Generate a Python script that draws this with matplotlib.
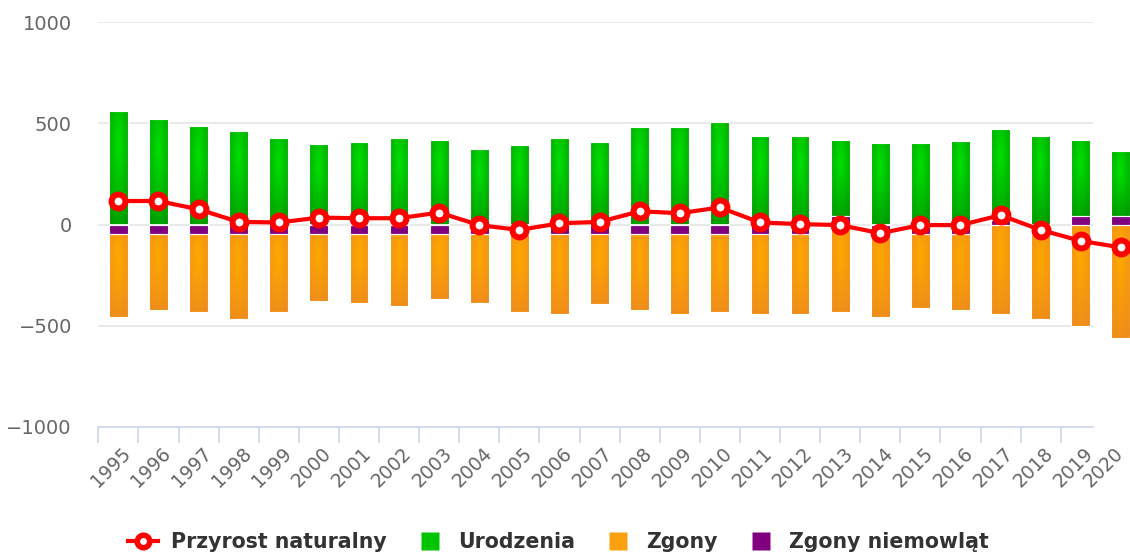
import numpy as np
import matplotlib.pyplot as plt
import matplotlib.transforms as mtransforms
from matplotlib.colors import LinearSegmentedColormap
from matplotlib.lines import Line2D

# -----------------------------
# DATA
# -----------------------------
years = ["1995", "1996", "1997", "1998", "1999", "2000", "2001", "2002", "2003",
         "2004", "2005", "2006", "2007", "2008", "2009", "2010", "2011", "2012",
         "2013", "2014", "2015", "2016", "2017", "2018", "2019", "2020"]

urodzenia = [559, 523, 488, 462, 426, 400, 408, 426, 418, 374, 392, 426, 408,
             480, 480, 507, 436, 436, 376, 401, 401, 410, 452, 436, 376, 322]

zgony = [-410, -374, -382, -418, -382, -329, -338, -356, -321, -338, -382, -392, -347,
         -374, -392, -382, -392, -392, -430, -410, -365, -374, -440, -418, -502, -561]

zgony_niemowlat = [-48, -48, -48, -48, -48, -48, -48, -48, -48, -48, -48, -48, -48,
                   -48, -48, -48, -48, -48, 42, -48, -48, -48, 20, -48, 42, 40]

przyrost = [116, 116, 75, 13, 10, 34, 31, 31, 59, -3, -27, 6, 13,
            65, 56, 84, 10, 2, -3, -43, -3, -3, 46, -27, -81, -113]

# -----------------------------
# STYLE
# -----------------------------
GREEN = ("#00e000", "#009a00")
ORANGE = ("#ffa800", "#ee8c1c")
PURPLE = "#800080"
RED = "#ff0000"
GRID = "#e6e6e6"
AXIS = "#ccd6eb"
TXT = "#666666"

W, H = 1130, 558


def gradient_fill(ax, bars, colors):
    """Paint a radial gradient inside every bar (Highcharts-like look)."""
    cmap = LinearSegmentedColormap.from_list("grad", list(colors))
    yy, xx = np.mgrid[0:1:120j, 0:1:30j]
    d = np.sqrt((xx - 0.5) ** 2 + (yy - 0.3) ** 2) / 0.8
    grad = np.clip(d, 0, 1)
    for p in bars:
        bb = p.get_bbox()
        x0, x1 = sorted([bb.x0, bb.x1])
        y0, y1 = sorted([bb.y0, bb.y1])
        if y1 - y0 <= 0:
            continue
        im = ax.imshow(grad, cmap=cmap, vmin=0, vmax=1, extent=[x0, x1, y0, y1],
                       aspect="auto", origin="upper", interpolation="bilinear", zorder=2.5)
        im.set_clip_path(p)
        p.set_facecolor("none")
        p.set_zorder(3)


fig = plt.figure(figsize=(W / 100, H / 100), dpi=100)
# plot area: left edge at 98 px, one category = 40.1 px
cat_px = 40.1
left_px, top_px, bot_px = 98.3, 22, 427
ax = fig.add_axes([left_px / W, 1 - bot_px / H, cat_px * len(years) / W, (bot_px - top_px) / H])

x = np.arange(len(years))
niem = np.array(zgony_niemowlat)
pos_base = np.clip(niem, 0, None)
neg_base = np.clip(niem, None, 0)

bw = 0.47
b_niem = ax.bar(x, niem, width=bw, color=PURPLE, edgecolor="white", linewidth=0.8, zorder=3)
b_uro = ax.bar(x, urodzenia, width=bw, bottom=pos_base, color=GREEN[0],
               edgecolor="white", linewidth=0.8, zorder=2)
b_zg = ax.bar(x, zgony, width=bw, bottom=neg_base, color=ORANGE[0],
              edgecolor="white", linewidth=0.8, zorder=2)
gradient_fill(ax, b_uro, GREEN)
gradient_fill(ax, b_zg, ORANGE)

ax.plot(x, przyrost, color=RED, lw=3, marker="o", ms=10, mfc="white", mec=RED,
        mew=4.3, zorder=6, clip_on=False)

# axes / grid (the chart is caught mid-update: grid stops before 2020)
grid_end = len(years) - 1.7
yt = [-1000, -500, 0, 500, 1000]
ax.hlines(yt[1:], -0.5, grid_end, color=GRID, lw=1.2, zorder=1)
ax.set_xlim(-0.5, len(years) - 0.5)
ax.set_ylim(-1000, 1000)

for s in ["top", "right", "left"]:
    ax.spines[s].set_visible(False)
ax.spines["bottom"].set_color(AXIS)
ax.spines["bottom"].set_linewidth(1.2)
ax.spines["bottom"].set_bounds(-0.5, grid_end)

ax.set_yticks(yt)
ax.set_yticklabels([f"{v}".replace("-", "\u2212") for v in yt])
ax.tick_params(axis="y", length=0, pad=19, labelsize=14, labelcolor=TXT)

ax.set_xticks(x)
ax.set_xticklabels(years, rotation=45, ha="right", va="top", rotation_mode="anchor")
ax.tick_params(axis="x", which="major", length=0, pad=12, labelsize=13.5, labelcolor=TXT)
ax.set_xticks(np.arange(-0.5, len(years) - 2), minor=True)
ax.tick_params(axis="x", which="minor", length=11.5, width=1.2, color=AXIS)
xlabels = ax.get_xticklabels()
for i, lbl in enumerate(xlabels):
    dx = 3 if i < len(xlabels) - 1 else -7   # last label squeezed in at the edge
    lbl.set_transform(lbl.get_transform() + mtransforms.ScaledTranslation(dx / 100, 0, fig.dpi_scale_trans))

# legend
handles = [
    Line2D([], [], color=RED, lw=3, marker="o", ms=9, mfc="white", mec=RED, mew=4),
    Line2D([], [], ls="none", marker="s", ms=13, mfc="#00c400", mec="none"),
    Line2D([], [], ls="none", marker="s", ms=13, mfc="#fba010", mec="none"),
    Line2D([], [], ls="none", marker="s", ms=13, mfc=PURPLE, mec="none"),
]
labels = ["Przyrost naturalny", "Urodzenia", "Zgony", "Zgony niemowląt"]
fig.legend(handles, labels, loc="center", bbox_to_anchor=(0.494, 1 - 542 / H), ncol=4,
           frameon=False, prop=dict(weight="bold", size=14.8), labelcolor="#333333",
           handlelength=1.5, handletextpad=0.6, columnspacing=1.37)

fig.savefig("out.png", dpi=100)
